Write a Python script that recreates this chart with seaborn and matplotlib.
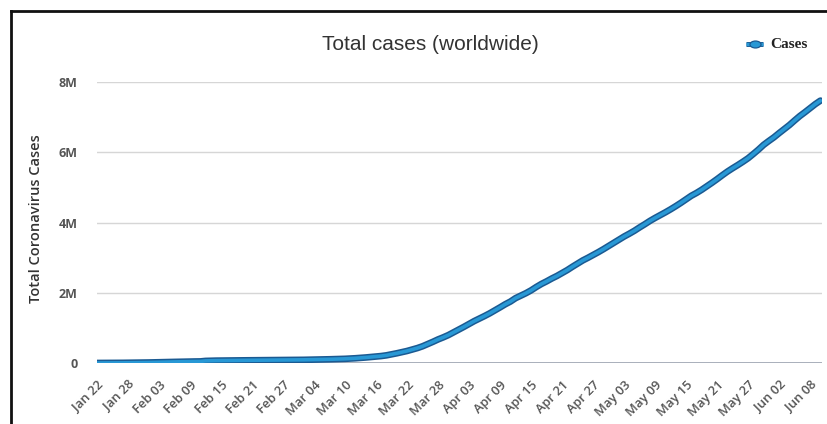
import numpy as np
import pandas as pd
import matplotlib
matplotlib.use("Agg")
import matplotlib.pyplot as plt
import matplotlib.patheffects as pe
from matplotlib.lines import Line2D
import seaborn as sns

# Cumulative worldwide cases, one value per day from Jan 22 (thousands)
start_date = "2020-01-22"
cases_k = [
    # Jan 22 - Jan 31
    0.58, 0.85, 1.3, 2.0, 2.8, 4.6, 6.1, 7.8, 9.8, 12.0,
    # Feb
    14.6, 17.4, 20.6, 24.5, 28.3, 31.4, 34.9, 37.6, 40.6, 43.1,
    45.1, 59.3, 64.4, 67.1, 69.2, 71.3, 73.3, 75.2, 75.7, 76.7,
    77.7, 78.7, 79.2, 80.1, 80.8, 81.8, 83.1, 84.6, 86.6,
    # Mar
    88.6, 90.4, 93.0, 95.3, 98.4, 102, 106, 110, 114, 119,
    126, 135, 145, 157, 170, 182, 198, 218, 246, 276,
    308, 342, 384, 425, 476, 539, 603, 671, 730, 795, 872,
    # Apr
    948, 1029, 1112, 1193, 1264, 1337, 1414, 1498, 1584, 1672,
    1749, 1846, 1915, 1987, 2068, 2163, 2250, 2324, 2405, 2478,
    2560, 2645, 2740, 2830, 2920, 2995, 3075, 3155, 3240, 3330,
    # May
    3420, 3510, 3600, 3680, 3765, 3860, 3950, 4045, 4130, 4210,
    4290, 4375, 4465, 4560, 4660, 4760, 4840, 4930, 5030, 5130,
    5235, 5345, 5450, 5545, 5635, 5730, 5830, 5950, 6075, 6210, 6320,
    # Jun 1 - Jun 10
    6425, 6545, 6660, 6775, 6905, 7030, 7140, 7255, 7370, 7470,
]
y_ticks = [0, 2e6, 4e6, 6e6, 8e6]
y_tick_labels = ["0", "2M", "4M", "6M", "8M"]
tick_every_days = 6

dates = pd.date_range(start_date, periods=len(cases_k), freq="D")
df = pd.DataFrame({"day": np.arange(len(cases_k)),
                   "cases": np.array(cases_k) * 1000.0})

W, H = 827, 424
fig = plt.figure(figsize=(W / 100, H / 100), dpi=100)
fig.patch.set_facecolor("white")

# frame lines along the top and left edges
fig.add_artist(Line2D([11 / W, 1.0], [1 - 11 / H, 1 - 11 / H], transform=fig.transFigure,
                      color="#111111", lw=2.0))
fig.add_artist(Line2D([11 / W, 11 / W], [0.0, 1 - 11 / H], transform=fig.transFigure,
                      color="#111111", lw=2.0))

left, right = 97 / W, 822 / W
bottom, top = (H - 363) / H, (H - 82) / H
ax = fig.add_axes([left, bottom, right - left, top - bottom])

line_blue = "#2898d5"
edge_blue = "#1b5a92"
sns.lineplot(data=df, x="day", y="cases", ax=ax, color=line_blue, lw=2.6,
             solid_capstyle="round", zorder=5,
             path_effects=[pe.Stroke(linewidth=4.8, foreground=edge_blue), pe.Normal()])

ax.set_xlim(0, 140.3)
ax.set_ylim(0, 8e6)
ax.set_yticks(y_ticks)
ax.set_yticklabels(y_tick_labels)
for v in y_ticks[1:]:
    ax.axhline(v, color="#d6d6d6", lw=1.0, zorder=1)
ax.axhline(0, color="#a3a9b5", lw=1.3, zorder=2)

xt = np.arange(0, len(cases_k), tick_every_days)
ax.set_xticks(xt)
ax.set_xticklabels([dates[i].strftime("%b %d") for i in xt])

for s in ax.spines.values():
    s.set_visible(False)
ax.tick_params(axis="both", length=0)
ax.tick_params(axis="y", pad=14)
ax.tick_params(axis="x", pad=11)
for t in ax.get_yticklabels():
    t.set_fontfamily("Open Sans")
    t.set_fontweight("bold")
    t.set_fontsize(9)
    t.set_color("#555555")
for t in ax.get_xticklabels():
    t.set_fontfamily("Open Sans")
    t.set_fontweight("semibold")
    t.set_fontsize(9.3)
    t.set_color("#555555")
    t.set_rotation(45)
    t.set_ha("right")
    t.set_va("top")
    t.set_rotation_mode("anchor")

ax.set_xlabel("")
ax.set_ylabel("Total Coronavirus Cases", fontfamily="Open Sans", fontweight="semibold",
              fontsize=10.5, color="#333333")
ax.yaxis.set_label_coords(-0.074, 0.515)

fig.text(430 / W, 1 - 45 / H, "Total cases (worldwide)", ha="center", va="center",
         fontfamily="Liberation Sans", fontsize=15, color="#333333")

# legend entry: short line with an oval marker in the middle
ly = 1 - 44 / H
fig.add_artist(Line2D([746 / W, 763 / W], [ly, ly], transform=fig.transFigure,
                      color=line_blue, lw=2.4, solid_capstyle="butt",
                      path_effects=[pe.Stroke(linewidth=3.6, foreground=edge_blue), pe.Normal()]))
oval = matplotlib.markers.MarkerStyle("o").get_path().transformed(
    matplotlib.transforms.Affine2D().scale(1.6, 1.0))
fig.add_artist(Line2D([754.5 / W], [ly], transform=fig.transFigure, lw=0,
                      marker=oval, markersize=8, markerfacecolor=line_blue,
                      markeredgecolor=edge_blue, markeredgewidth=0.9))
fig.text(770 / W, ly, "Cases", ha="left", va="center",
         fontfamily="Liberation Serif", fontweight="bold", fontsize=11, color="#222222")

fig.savefig("out.png", dpi=100, facecolor="white")
